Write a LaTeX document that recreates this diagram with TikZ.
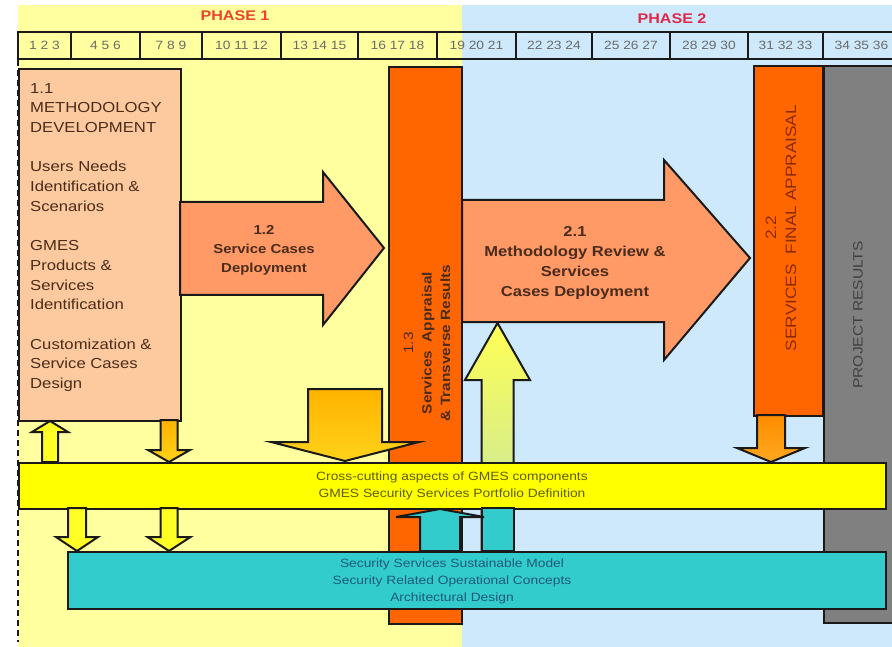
\documentclass[tikz,border=0pt]{standalone}
\usepackage{fontspec}
\setmainfont{Liberation Sans}[FakeStretch=1.15]
\usetikzlibrary{calc}
\definecolor{bgY}{HTML}{FFFFA0}
\definecolor{bgB}{HTML}{CDE9FB}
\definecolor{peach}{HTML}{FCCA9E}
\definecolor{salmon}{HTML}{FF9966}
\definecolor{orng}{HTML}{FF6600}
\definecolor{gryc}{HTML}{808080}
\definecolor{yband}{HTML}{FFFF00}
\definecolor{cband}{HTML}{33CCCC}
\definecolor{edgec}{HTML}{1A1A1A}
\definecolor{brn}{HTML}{4A2C1C}
\definecolor{olivec}{HTML}{5E5E00}
\definecolor{tealc}{HTML}{1F5A78}
\definecolor{ph1}{HTML}{E8452C}
\definecolor{ph2}{HTML}{E0284A}
\definecolor{numc}{HTML}{6A6A6A}
\definecolor{redbrn}{HTML}{8B2A00}
\definecolor{goldA}{HTML}{FFB300}
\definecolor{goldB}{HTML}{FFD21A}
\definecolor{grnA}{HTML}{FFFF55}
\definecolor{grnB}{HTML}{BFE3A8}
\definecolor{orA}{HTML}{FF8C00}
\definecolor{orB}{HTML}{FFA820}
\newcommand\fs[2]{\fontsize{#1}{#2}\selectfont}
% style, x, shaft half width, head half width, y start, y head base, y tip
\newcommand\vblockarrow[7]{%
  \path[#1] ({#2-#3},#5) -- ({#2-#3},#6) -- ({#2-#4},#6) -- (#2,#7) -- ({#2+#4},#6) -- ({#2+#3},#6) -- ({#2+#3},#5) -- cycle;}
\tikzset{
  blk/.style={draw=edgec, line width=2pt, line join=miter},
  boxn/.style={blk, anchor=north west, inner sep=0pt},
  cell/.style={draw=edgec, line width=1.5pt, minimum height=27pt, inner sep=0pt, font=\fs{12}{13}, text=numc},
  phase/.style={font=\bfseries\fs{14}{16}},
  arrowtxt/.style={align=center, text=brn, font=\bfseries\fs{13}{19}},
  bandtxt/.style={align=center, font=\fs{12}{17}},
}
\begin{document}
\begin{tikzpicture}[x=1pt, y=-1pt]
\clip (0,0) rectangle (892,647);
\useasboundingbox (0,0) rectangle (892,647);
% backgrounds
\fill[white] (0,0) rectangle (892,647);
\fill[bgY] (18,5) rectangle (462,647);
\fill[bgB] (462,5) rectangle (892,647);
% phases
\node[phase, text=ph1] (p1) at (235,16) {PHASE 1};
\node[phase, text=ph2] (p2) at (672,19) {PHASE 2};
% timeline
\foreach \a/\b/\t in {18/71/{1 2 3}, 71/140/{4 5 6}, 140/202/{7 8 9}, 202/281/{10 11 12}, 281/358/{13 14 15}, 358/437/{16 17 18}, 437/516/{19 20 21}, 516/592/{22 23 24}, 592/670/{25 26 27}, 670/748/{28 29 30}, 748/823/{31 32 33}, 823/900/{34 35 36}}
  \node[cell, minimum width={(\b-\a)*1pt}] (t\a) at ({(\a+\b)/2},45.5) {\t};
\draw[edgec, line width=2.4pt] (18,32) -- (892,32);
\draw[edgec, line width=2.4pt] (18,59) -- (892,59);
% columns
\node[boxn, fill=orng, minimum width=73pt, minimum height=557pt] (c13) at (388,66) {};
\node[boxn, fill=orng, minimum width=69pt, minimum height=350pt] (c22) at (753,65) {};
\node[boxn, fill=gryc, minimum width=75pt, minimum height=557pt] (cpr) at (823,65) {};
\node[rotate=90, align=center, text=brn, font=\bfseries\fs{13.4}{18.5}] (t13) at (427,343) {{\mdseries 1.3}\\Services~ Appraisal\\\& Transverse Results};
\node[rotate=90, align=center, text=redbrn, font=\fs{15}{20}] (t22) at (781,228) {2.2\\SERVICES~ FINAL APPRAISAL};
\node[rotate=90, text=black!75, font=\fs{13.5}{16}] (tpr) at (858,315) {PROJECT RESULTS};
% box 1.1
\node[boxn, fill=peach, minimum width=162pt, minimum height=352pt] (m11) at (18,68) {};
\node[anchor=north west, inner sep=0pt, align=left, text=brn, font=\fs{14.5}{19.7}] (m11t) at (30,83)
  {1.1\\METHODOLOGY\\DEVELOPMENT\\[19.7pt]Users Needs\\Identification \&\\Scenarios\\[19.7pt]GMES\\Products \&\\Services\\Identification\\[19.7pt]Customization \&\\Service Cases\\Design};
% arrow 1.2
\path[blk, fill=salmon] (180,202) -- (323,202) -- (323,172) -- (384,248) -- (323,325) -- (323,295) -- (180,295) -- cycle;
\node[arrowtxt] (a12) at (264,250) {1.2\\Service Cases\\Deployment};
% arrow 2.1
\path[blk, fill=salmon] (462,200) -- (664,200) -- (664,160) -- (750,258) -- (664,360) -- (664,322) -- (462,322) -- cycle;
\node[arrowtxt, font=\bfseries\fs{14.4}{20}] (a21) at (575,263) {2.1\\Methodology Review \&\\Services\\Cases Deployment};
% green up arrow
\vblockarrow{blk, top color=grnA, bottom color=grnB}{497.5}{16}{32.5}{550}{380}{323}
% big gold arrow
\vblockarrow{blk, top color=goldA, bottom color=goldB}{345}{37}{74}{389}{442}{461}
% small arrows to/from 1.1
\vblockarrow{blk, fill=yband!85!white}{50}{8}{18}{462}{432}{421}
\vblockarrow{blk, top color=goldA, bottom color=goldB}{169}{8.5}{21}{420}{450}{462}
% orange arrow from 2.2
\vblockarrow{blk, top color=orA, bottom color=orB}{771}{14}{34}{415}{448}{462}
% yellow band
\node[boxn, fill=yband, minimum width=867pt, minimum height=46pt] (yb) at (18,462) {};
\node[bandtxt, text=olivec] (ybt) at (452,486) {Cross-cutting aspects of GMES components\\GMES Security Services Portfolio Definition};
% arrows between bands
\path[blk, fill=cband] (482,508) rectangle (514,551);
\vblockarrow{blk, fill=cband}{440}{20}{44}{551}{517}{509}
\vblockarrow{blk, fill=yband!85!white}{77}{9}{21}{508}{537}{551}
\vblockarrow{blk, fill=yband!85!white}{169}{8.5}{21.5}{508}{537}{551}
% cyan band
\node[boxn, fill=cband, minimum width=818pt, minimum height=57pt] (cb) at (67,551) {};
\node[bandtxt, text=tealc] (cbt) at (452,581) {Security Services Sustainable Model\\Security Related Operational Concepts\\Architectural Design};
% dashed left line
\draw[edgec, line width=2pt, dash pattern=on 6pt off 4pt] (18,60) -- (18,642);
\end{tikzpicture}
\end{document}
